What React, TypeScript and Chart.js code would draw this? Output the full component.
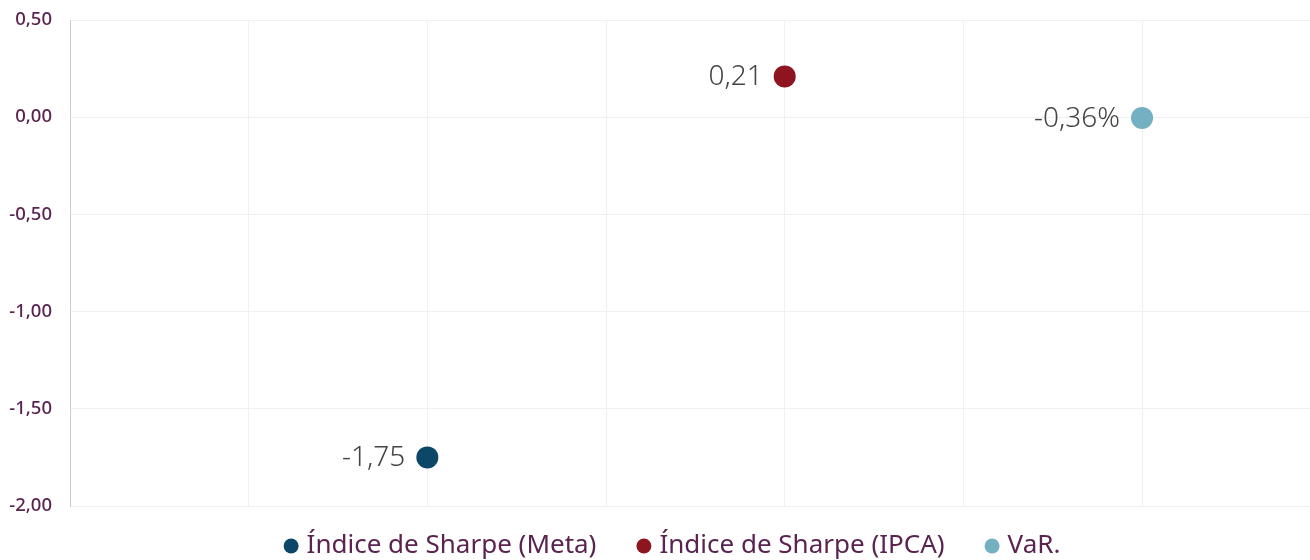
import React, { useEffect, useRef } from "react";
import { Chart, registerables } from "chart.js";

Chart.register(...registerables);

const seriesNames = ["Índice de Sharpe (Meta)", "Índice de Sharpe (IPCA)", "VaR."];
const seriesX = [2, 4, 6];
const seriesY = [-1.75, 0.21, -0.0036];
const seriesLabels = ["-1,75", "0,21", "-0,36%"];
const seriesColors = ["#0d4767", "#8e1520", "#73b0c1"];
const yMin = -2;
const yMax = 0.5;
const yStep = 0.5;

const FONT = "'Noto Sans', 'Open Sans', sans-serif";

const pointLabelPlugin = {
  id: "pointLabels",
  afterDatasetsDraw(chart: any) {
    const ctx = chart.ctx;
    ctx.save();
    ctx.font = `300 28px ${FONT}`;
    ctx.fillStyle = "#444444";
    ctx.textAlign = "right";
    ctx.textBaseline = "middle";
    chart.data.datasets.forEach((ds: any, i: number) => {
      const meta = chart.getDatasetMeta(i);
      meta.data.forEach((el: any) => {
        ctx.fillText(seriesLabels[i], el.x - 22, el.y + 1);
      });
    });
    ctx.restore();
  },
};

const bottomLegendPlugin = {
  id: "bottomLegend",
  afterDraw(chart: any) {
    const ctx = chart.ctx;
    ctx.save();
    ctx.font = `26px ${FONT}`;
    ctx.textBaseline = "middle";
    ctx.textAlign = "left";
    const r = 7.5;
    const gapText = 8;
    const gapItem = 40;
    const items = chart.data.datasets.map((ds: any) => ({
      label: ds.label,
      color: ds.backgroundColor,
      w: 2 * r + gapText + ctx.measureText(ds.label).width,
    }));
    const total = items.reduce((s: number, it: any) => s + it.w, 0) + gapItem * (items.length - 1);
    let x = 672 - total / 2;
    const y = 546;
    items.forEach((it: any) => {
      ctx.beginPath();
      ctx.fillStyle = it.color;
      ctx.arc(x + r, y, r, 0, Math.PI * 2);
      ctx.fill();
      ctx.fillStyle = "#5a2350";
      ctx.fillText(it.label, x + 2 * r + gapText, y);
      x += it.w + gapItem;
    });
    ctx.restore();
  },
};

export default function App() {
  const ref = useRef<HTMLCanvasElement | null>(null);
  useEffect(() => {
    document.body.style.margin = "0";
    const chart = new Chart(ref.current as HTMLCanvasElement, {
      type: "scatter",
      data: {
        datasets: seriesNames.map((name, i) => ({
          label: name,
          data: [{ x: seriesX[i], y: seriesY[i] }],
          backgroundColor: seriesColors[i],
          borderColor: seriesColors[i],
          pointRadius: 11,
          pointHoverRadius: 11,
          borderWidth: 0,
        })),
      },
      options: {
        animation: false,
        responsive: false,
        maintainAspectRatio: false,
        layout: { autoPadding: false, padding: { top: 20, right: 0, left: 0, bottom: 54 } },
        plugins: {
          tooltip: { enabled: false },
          legend: { display: false },
        },
        scales: {
          x: {
            type: "linear",
            min: 0,
            max: 6.94,
            afterFit: (s: any) => {
              s.height = 0;
              s.paddingLeft = 0;
              s.paddingRight = 0;
            },
            ticks: { display: false, stepSize: 1 },
            grid: { color: "#f0f0f0", drawTicks: false },
            border: { display: false },
          },
          y: {
            min: yMin,
            max: yMax,
            afterFit: (s: any) => {
              s.width = 70;
              s.paddingTop = 0;
              s.paddingBottom = 0;
            },
            ticks: {
              stepSize: yStep,
              padding: 18,
              color: "#5a2350",
              font: { family: FONT, size: 18.5, weight: 500 },
              callback: (v: any) => Number(v).toFixed(2).replace(".", ","),
            },
            grid: { color: "#f0f0f0", drawTicks: false },
            border: { color: "#cccccc" },
          },
        },
      },
      plugins: [pointLabelPlugin, bottomLegendPlugin],
    });
    return () => chart.destroy();
  }, []);
  return <canvas ref={ref} width={1310} height={560} style={{ display: "block" }} />;
}
